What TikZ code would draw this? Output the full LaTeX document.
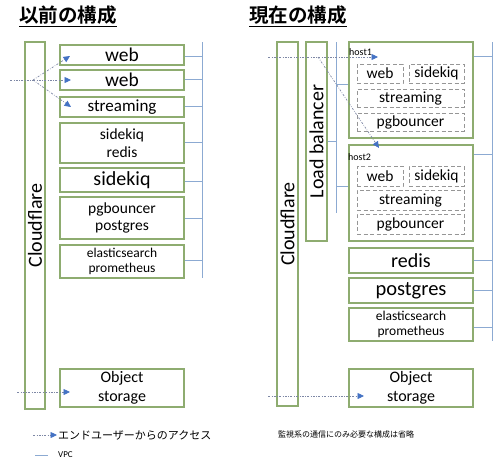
\documentclass[tikz,border=0pt]{standalone}
\usepackage{fontspec}
\setmainfont{Carlito}
\newfontfamily\cjk{Noto Sans CJK JP}[BoldFont={Noto Sans CJK JP Bold}]
\usetikzlibrary{arrows.meta}
\definecolor{boxgreen}{RGB}{142,172,112}
\definecolor{vpcblue}{RGB}{140,170,210}
\definecolor{tipblue}{RGB}{68,114,196}
\definecolor{accgray}{RGB}{125,135,165}
\definecolor{dashgray}{RGB}{150,150,150}
\newcommand\fsz[1]{\fontsize{#1}{1.15\dimexpr#1pt\relax}\selectfont}
\begin{document}
\begin{tikzpicture}[x=1pt,y=-1pt,
  box/.style={draw=boxgreen,line width=1.1pt,inner sep=0pt,align=center,text=black},
  dbox/.style={draw=dashgray,line width=0.9pt,dash pattern=on 4pt off 2.5pt,inner sep=0pt,align=center,text=black,font=\fsz{15.5}},
  vpc/.style={draw=vpcblue,line width=0.8pt},
  accline/.style={draw=accgray,line width=0.7pt,dash pattern=on 2pt off 1.5pt on 0.6pt off 1.5pt},
  acc/.style={accline,-{Triangle[length=6.5pt,width=6pt,color=tipblue,fill=tipblue]}},
  lbox/.style={box,minimum width=124,minimum height=#1},
]
\fill[white] (0,0) rectangle (500,464);
\useasboundingbox (0,0) rectangle (500,464);

% titles
\node[anchor=west,inner sep=0pt] (t1) at (19,16) {\cjk\bfseries\fsz{19.5}\underline{以前の構成}};
\node[anchor=west,inner sep=0pt] (t2) at (249,16) {\cjk\bfseries\fsz{19.5}\underline{現在の構成}};

% ---------- left: before ----------
\node[box,rotate=90,minimum width=367,minimum height=20,font=\fsz{20}] (lcf) at (35,225.5) {Cloudflare};
\node[lbox=20,font=\fsz{19.5}] (lweb1) at (122,55) {web};
\node[lbox=20,font=\fsz{19.5}] (lweb2) at (122,80) {web};
\node[lbox=20,font=\fsz{17}] (lstream) at (122,107) {streaming};
\node[lbox=40,font=\fsz{15.5}] (lsr) at (122,143) {sidekiq\\redis};
\node[lbox=24,font=\fsz{20}] (lsk) at (122,180) {sidekiq};
\node[lbox=42,font=\fsz{15.5}] (lpg) at (122,218) {pgbouncer\\postgres};
\node[lbox=33,font=\fsz{13.5}] (les) at (122,261.5) {elasticsearch\\prometheus};
\node[lbox=38,font=\fsz{16}] (lobj) at (122,388) {Object\\storage};

% left VPC
\coordinate (lvt) at (202,42);
\coordinate (lvb) at (202,278);
\draw[vpc] (lvt) -- (lvb);
\foreach \n/\yy in {lweb1/56,lweb2/79,lstream/106,lsr/142,lsk/181,lpg/218,les/260}{
  \draw[vpc] (\n.east |- 0,\yy) -- (lvt |- 0,\yy);
}

% left access arrows
\coordinate (ls) at (10,80);
\coordinate (lj) at (33,80);
\coordinate (la1) at (70,56);
\coordinate (la2) at (71,80);
\coordinate (la3) at (71,107);
\draw[accline] (ls) -- (lj);
\draw[acc] (lj) -- (la1);
\draw[acc] (lj) -- (la2);
\draw[acc] (lj) -- (la3);
\coordinate (los) at (17,392);
\coordinate (loe) at (70,392);
\draw[acc] (los) -- (loe);

% ---------- right: current ----------
\node[box,rotate=90,minimum width=364,minimum height=21,font=\fsz{20}] (rcf) at (287.5,224) {Cloudflare};
\node[box,rotate=90,minimum width=199,minimum height=21,font=\fsz{20}] (rlb) at (316.5,141.5) {Load balancer};

\node[lbox=96] (host1) at (411,90) {};
\node[lbox=96] (host2) at (411,193) {};
\node[lbox=25,font=\fsz{20}] (rredis) at (411,260.5) {redis};
\node[lbox=25,font=\fsz{20.5}] (rpg) at (411,290.5) {postgres};
\node[lbox=33,font=\fsz{13.5}] (res) at (411,324.5) {elasticsearch\\prometheus};
\node[lbox=38,font=\fsz{16}] (robj) at (411,388) {Object\\storage};

\node[anchor=west,inner sep=0pt,font=\fsz{10}] (h1l) at (349,52) {host1};
\node[anchor=west,inner sep=0pt,font=\fsz{10}] (h2l) at (348,157) {host2};

\node[dbox,minimum width=46,minimum height=19] (h1web) at (380,73.5) {web};
\node[dbox,minimum width=55,minimum height=19] (h1sk) at (436.5,73.5) {sidekiq};
\node[dbox,minimum width=107,minimum height=18] (h1st) at (410.5,98) {streaming};
\node[dbox,minimum width=107,minimum height=18] (h1pg) at (410.5,122) {pgbouncer};

\node[dbox,minimum width=46,minimum height=20] (h2web) at (380,176) {web};
\node[dbox,minimum width=55,minimum height=20] (h2sk) at (436.5,176) {sidekiq};
\node[dbox,minimum width=107,minimum height=20] (h2st) at (410.5,200) {streaming};
\node[dbox,minimum width=107,minimum height=20] (h2pg) at (410.5,224) {pgbouncer};

% LB VPC
\coordinate (mvt) at (336,42);
\coordinate (mvb) at (336,213);
\draw[vpc] (mvt) -- (mvb);
\draw[vpc] (rlb.south |- 0,141) -- (mvt |- 0,141);
\draw[vpc] (mvt |- 0,84) -- (host1.west |- 0,84);
\draw[vpc] (mvt |- 0,186) -- (host2.west |- 0,186);

% right VPC
\coordinate (rvt) at (492,42);
\coordinate (rvb) at (492,341);
\draw[vpc] (rvt) -- (rvb);
\foreach \n/\yy in {host1/56,host2/154,rredis/260,rpg/290,res/327}{
  \draw[vpc] (\n.east |- 0,\yy) -- (rvt |- 0,\yy);
}

% right access arrows
\coordinate (rs) at (268,57);
\coordinate (rj) at (318,57);
\coordinate (ra1) at (378,57);
\coordinate (ra2) at (379,148);
\draw[acc] (rs) -- (ra1);
\draw[acc] (rj) -- (ra2);
\coordinate (ros) at (268,396);
\coordinate (roe) at (364,396);
\draw[acc] (ros) -- (roe);

% ---------- legend ----------
\coordinate (gas) at (33,435);
\coordinate (gae) at (57,435);
\draw[acc] (gas) -- (gae);
\node[anchor=west,inner sep=0pt,font=\cjk\fsz{11}] (gat) at (58,435) {エンドユーザーからのアクセス};
\coordinate (gvs) at (35,455);
\coordinate (gve) at (48,455);
\draw[vpc] (gvs) -- (gve);
\node[anchor=west,inner sep=0pt,font=\fsz{9}] (gvt) at (58,455) {VPC};
\node[anchor=west,inner sep=0pt,font=\cjk\fsz{8}] (note) at (278,434) {監視系の通信にのみ必要な構成は省略};
\end{tikzpicture}
\end{document}
